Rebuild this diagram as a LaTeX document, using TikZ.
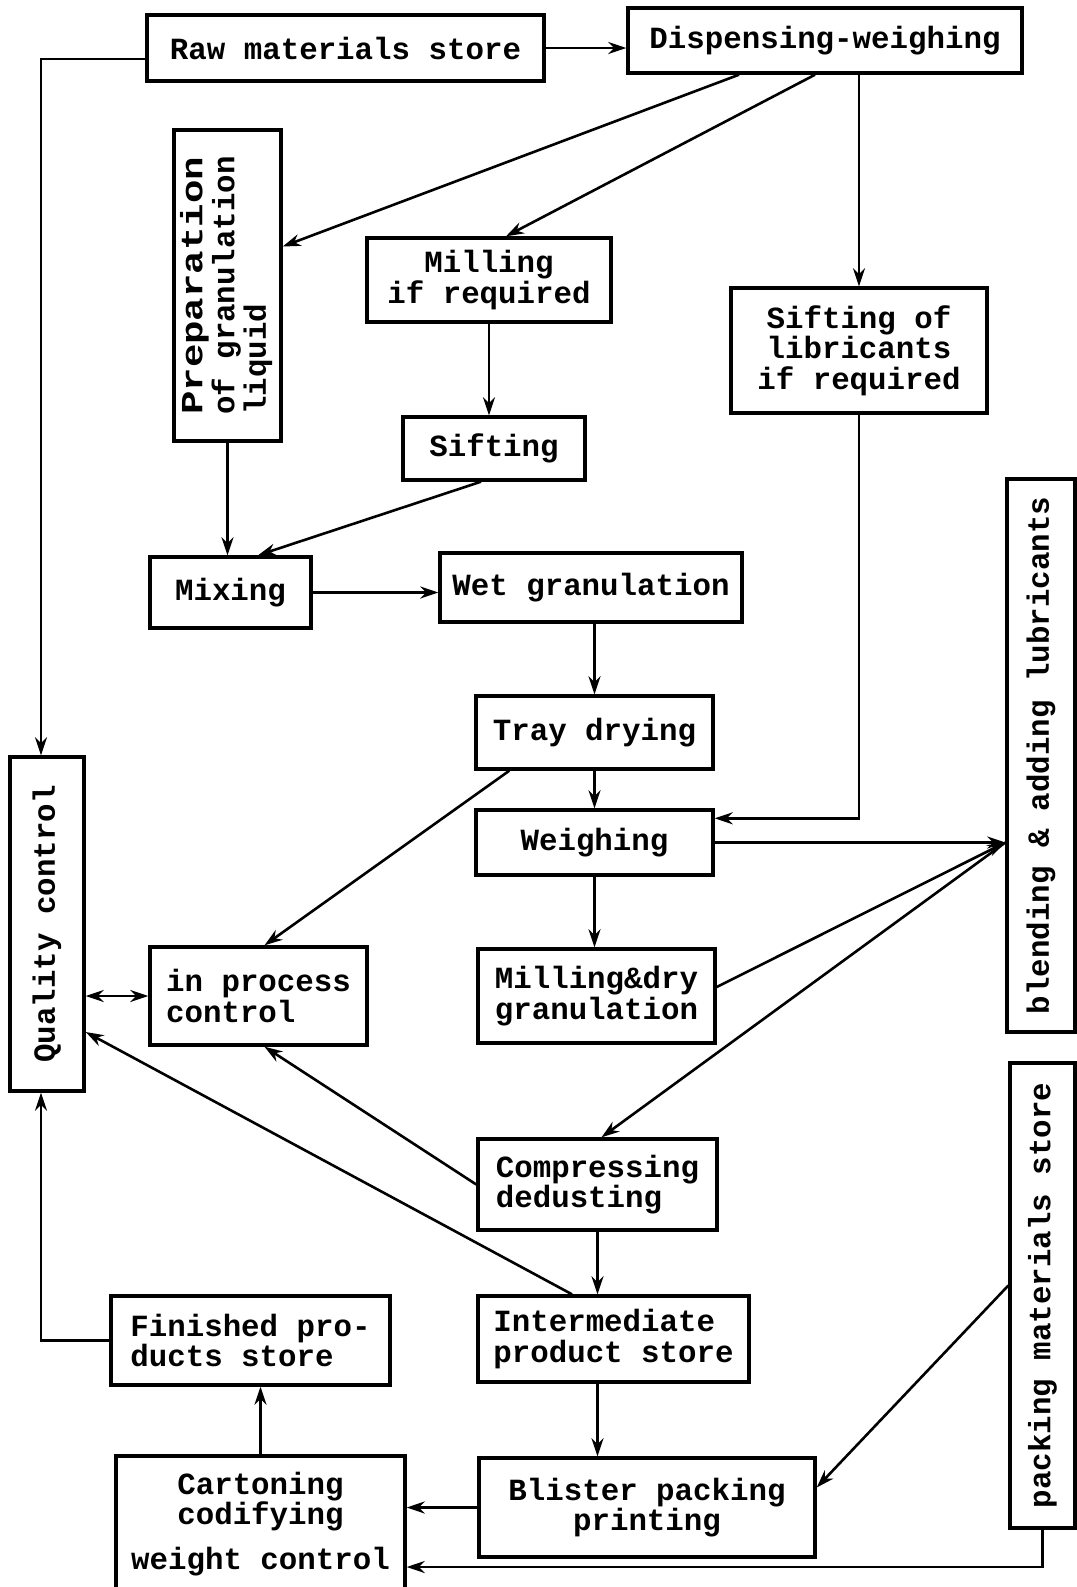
\documentclass[tikz,border=0pt]{standalone}
\usepackage{fontspec}
\setmainfont{Liberation Mono}
\usepackage{graphicx}
\usetikzlibrary{arrows.meta}

\begin{document}
\begin{tikzpicture}[>={Stealth[length=9pt,width=6pt]}, x=0.5pt, y=-0.5pt,
  stage/.style={draw, line width=1.7pt, inner sep=2pt,
    font=\fontsize{15.4}{15.2}\selectfont\bfseries},
  flow/.style={->, line width=1.3pt}]
  \useasboundingbox (0,0) rectangle (1077,1587);

  % Stores and weighing
  \node[stage, minimum width=198.5pt, minimum height=33pt] (raw) at (345.5,48) {Raw materials store};
  \node[stage, minimum width=197pt, minimum height=32.5pt] (disp) at (825,40.5) {Dispensing-weighing};
  \node[stage, minimum width=53.5pt, minimum height=155.5pt] (prep) at (227.5,285.5)
    {\rotatebox{90}{\begin{tabular}{@{}l@{}}\scalebox{1.27}[1]{Preparation}\\of granulation\\liquid\end{tabular}}};
  \node[stage, minimum width=122pt, minimum height=42pt, align=center] (mill) at (489,280) {Milling\\if required};
  \node[stage, minimum width=128pt, minimum height=62.5pt, align=center] (sifl) at (859,350.5) {Sifting of\\libricants\\if required};
  \node[stage, minimum width=91pt, minimum height=31.5pt] (sift) at (494,448.5) {Sifting};

  % Granulation line
  \node[stage, minimum width=80.5pt, minimum height=35.5pt] (mix) at (230.5,592.5) {Mixing};
  \node[stage, minimum width=151pt, minimum height=34.5pt] (wet) at (591,587.5) {Wet granulation};
  \node[stage, minimum width=118.5pt, minimum height=36.5pt] (tray) at (594.5,732.5) {Tray drying};
  \node[stage, minimum width=118.5pt, minimum height=32.5pt] (weigh) at (594.5,842.5) {Weighing};
  \node[stage, minimum width=118.5pt, minimum height=47pt, align=left] (milld) at (596.5,996) {Milling\&dry\\granulation};
  \node[stage, minimum width=108.5pt, minimum height=49pt, align=left] (ipc) at (258.5,996) {in process\\control};

  % Side columns
  \node[stage, minimum width=37pt, minimum height=167pt] (qc) at (47,924) {\rotatebox{90}{Quality control}};
  \node[stage, minimum width=34pt, minimum height=276.5pt] (blend) at (1041,755.5) {\rotatebox{90}{blending \& adding lubricants}};
  \node[stage, minimum width=32.5pt, minimum height=232.5pt] (pack) at (1042.5,1295.5) {\rotatebox{90}{packing materials store}};

  % Compression and packing
  \node[stage, minimum width=119.5pt, minimum height=45.5pt, align=left] (comp) at (597.5,1184.5) {Compressing\\dedusting};
  \node[stage, minimum width=135.5pt, minimum height=43pt, align=left] (inter) at (613.5,1339) {Intermediate\\product store};
  \node[stage, minimum width=139.5pt, minimum height=44.5pt, align=left] (fin) at (250.5,1340.5) {Finished pro-\\ducts store};
  \node[stage, minimum width=168pt, minimum height=49.5pt, align=center] (blist) at (647,1507.5) {Blister packing\\printing};
  \node[stage, minimum width=144.5pt, minimum height=68pt, align=center] (cart) at (260.5,1524) {Cartoning\\codifying\\[7pt]weight control};

  % Connectors
  \draw[flow] (raw.east) -- (raw.east -| disp.west);
  \draw[flow] ([yshift=-5.5pt]raw.west) -| ([xshift=-3pt]qc.north);
  \draw[flow] ([xshift=-43pt]disp.south) -- ([yshift=19.5pt]prep.east);
  \draw[flow] ([xshift=-5pt]disp.south) -- ([xshift=8.5pt]mill.north);
  \draw[flow] (disp.south -| sifl.north) -- (sifl.north);
  \draw[flow] (mill.south) -- (mill.south |- sift.north);
  \draw[flow] (prep.south) -- (prep.south |- mix.north);
  \draw[flow] ([xshift=-6.5pt]sift.south) -- ([xshift=13.75pt]mix.north);
  \draw[flow] (mix.east) -- (mix.east -| wet.west);
  \draw[flow] (tray.north |- wet.south) -- (tray.north);
  \draw[flow] (tray.south) -- (weigh.north);
  \draw[flow] (sifl.south) |- ([yshift=-5pt]weigh.north east);
  \draw[flow] ([xshift=17.5pt]tray.south west) -- ([xshift=3pt]ipc.north);
  \coordinate (bin) at (weigh.east -| blend.west);
  \draw[flow] (weigh.east) -- (bin);
  \draw[flow] (weigh.south) -- (weigh.south |- milld.north);
  \draw[flow] ([yshift=4.5pt]milld.east) -- (bin);
  \draw[flow] (bin) -- ([xshift=2pt]comp.north);
  \draw[flow, <->] (ipc.west -| qc.east) -- (ipc.west);
  \draw[flow] (comp.west) -- ([xshift=3pt]ipc.south);
  \draw[flow] ([xshift=-20.75pt]inter.north) -- ([yshift=-54pt]qc.east);
  \draw[flow] (comp.south) -- (comp.south |- inter.north);
  \draw[flow] (comp.south |- inter.south) -- (comp.south |- blist.north);
  \draw[flow] (blist.west) -- (blist.west -| cart.east);
  \draw[flow] (cart.north) -- (cart.north |- fin.south);
  \draw[flow] (fin.west) -| ([xshift=-3pt]qc.south);
  \draw[flow] ([yshift=5pt]pack.west) -- ([yshift=10pt]blist.east);
  \draw[flow] (pack.south) |- ([yshift=-21.5pt]cart.east);
\end{tikzpicture}
\end{document}
